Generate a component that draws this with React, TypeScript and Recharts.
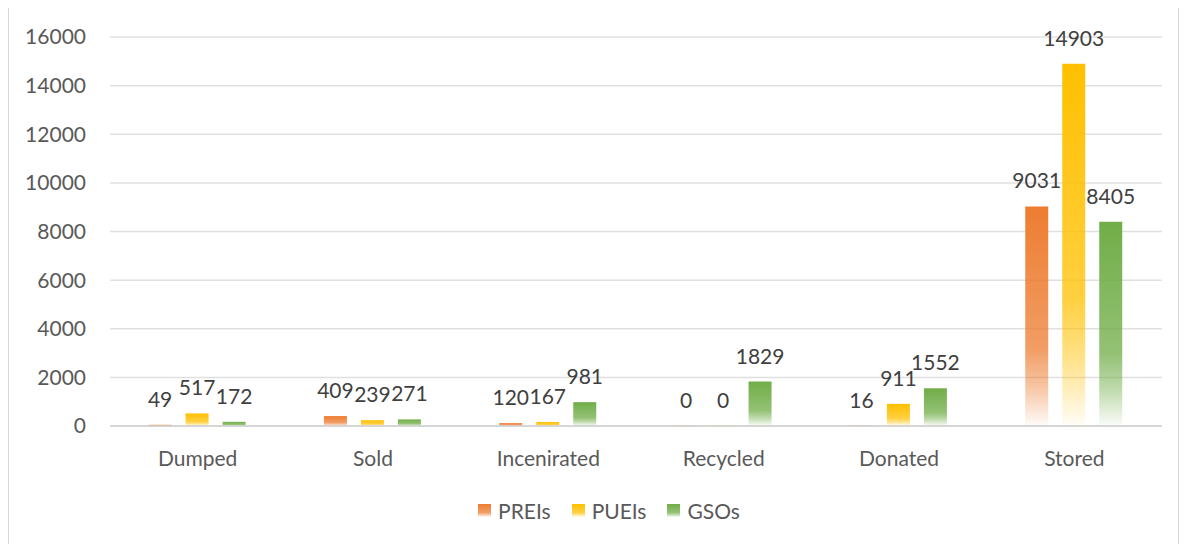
import { BarChart, Bar, XAxis, YAxis, CartesianGrid, Legend, LabelList } from 'recharts';

const categories = ['Dumped', 'Sold', 'Incenirated', 'Recycled', 'Donated', 'Stored'];
const preis = [49, 409, 120, 0, 16, 9031];
const pueis = [517, 239, 167, 0, 911, 14903];
const gsos = [172, 271, 981, 1829, 1552, 8405];
const yTicks = [0, 2000, 4000, 6000, 8000, 10000, 12000, 14000, 16000];

const series = [
  { key: 'PREIs', color: '#ED7D31', id: 'g-preis' },
  { key: 'PUEIs', color: '#FFC000', id: 'g-pueis' },
  { key: 'GSOs', color: '#70AD47', id: 'g-gsos' },
];

const data = categories.map((name, i) => ({
  name,
  PREIs: preis[i],
  PUEIs: pueis[i],
  GSOs: gsos[i],
}));

const FONT = 'Lato, "Open Sans", sans-serif';

function renderLegend() {
  return (
    <div
      style={{
        display: 'flex',
        justifyContent: 'center',
        alignItems: 'center',
        height: 30,
        paddingLeft: 68,
        fontFamily: FONT,
      }}
    >
      {series.map(s => (
        <div key={s.key} style={{ display: 'flex', alignItems: 'center', marginRight: 21 }}>
          <svg width={13} height={13} style={{ marginRight: 7 }}>
            <rect width={13} height={13} fill={`url(#${s.id})`} />
          </svg>
          <span style={{ fontSize: 21, color: '#595959' }}>{s.key}</span>
        </div>
      ))}
    </div>
  );
}

export default function App() {
  return (
    <div
      style={{
        width: 1169,
        height: 545,
        border: '1px solid #d9d9d9',
        marginTop: -1,
        background: '#fff',
        fontFamily: FONT,
      }}
    >
      <BarChart
        width={1169}
        height={535}
        data={data}
        margin={{ top: 29, right: 16, left: 0, bottom: 18 }}
        barCategoryGap="22%"
        barGap={14}
      >
        <defs>
          {series.map(s => (
            <linearGradient key={s.id} id={s.id} x1="0" y1="0" x2="0" y2="1">
              <stop offset="0" stopColor={s.color} stopOpacity={1} />
              <stop offset="0.65" stopColor={s.color} stopOpacity={0.75} />
              <stop offset="0.82" stopColor={s.color} stopOpacity={0.45} />
              <stop offset="1" stopColor={s.color} stopOpacity={0.03} />
            </linearGradient>
          ))}
        </defs>
        <CartesianGrid vertical={false} stroke="#e0e0e0" strokeWidth={1.5} />
        <XAxis
          dataKey="name"
          height={69}
          axisLine={{ stroke: '#d0d0d0', strokeWidth: 1.5 }}
          tickLine={false}
          tickSize={0}
          tickMargin={25}
          tick={{ fontSize: 21, fill: '#595959', fontFamily: FONT }}
        />
        <YAxis
          width={101}
          domain={[0, 16000]}
          ticks={yTicks}
          axisLine={false}
          tickLine={false}
          tickSize={0}
          tickMargin={24}
          tick={{ fontSize: 21, fill: '#595959', fontFamily: FONT }}
        />
        <Legend verticalAlign="bottom" height={30} content={renderLegend} />
        {series.map(s => (
          <Bar
            key={s.key}
            dataKey={s.key}
            fill={`url(#${s.id})`}
            minPointSize={0.3}
            isAnimationActive={false}
          >
            <LabelList
              dataKey={s.key}
              position="top"
              offset={18}
              style={{ fontSize: 21, fill: '#404040', fontFamily: FONT }}
            />
          </Bar>
        ))}
      </BarChart>
    </div>
  );
}
